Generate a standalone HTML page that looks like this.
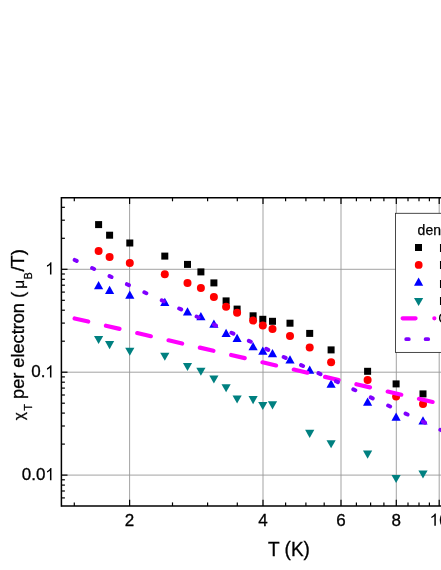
<!DOCTYPE html>
<html><head><meta charset="utf-8"><title>chart</title>
<style>
html,body{margin:0;padding:0;background:#fff;}
body{width:441px;height:570px;overflow:hidden;}
svg{display:block;will-change:transform;}
text{font-family:"Liberation Sans",sans-serif;fill:#000;}
</style></head><body>
<svg width="441" height="570" viewBox="0 0 441 570">
<rect width="441" height="570" fill="#fff"/>
<g stroke="#999" stroke-width="0.9" fill="none">
<line x1="129.6" y1="197.8" x2="129.6" y2="505.9"/>
<line x1="263.0" y1="197.8" x2="263.0" y2="505.9"/>
<line x1="341.0" y1="197.8" x2="341.0" y2="505.9"/>
<line x1="396.3" y1="197.8" x2="396.3" y2="505.9"/>
<line x1="439.2" y1="197.8" x2="439.2" y2="505.9"/>
<line x1="61.4" y1="269.3" x2="445" y2="269.3"/>
<line x1="61.4" y1="372.2" x2="445" y2="372.2"/>
<line x1="61.4" y1="475.1" x2="445" y2="475.1"/>
</g>
<g stroke="#000" stroke-width="1.5" fill="none">
<line x1="61.4" y1="197.05" x2="61.4" y2="506.65"/>
<line x1="61.4" y1="197.8" x2="445" y2="197.8"/>
<line x1="61.4" y1="505.9" x2="445" y2="505.9"/>
</g>
<g stroke="#000" stroke-width="1.2" fill="none">
<line x1="129.6" y1="505.9" x2="129.6" y2="499.79999999999995"/><line x1="129.6" y1="197.8" x2="129.6" y2="203.9"/>
<line x1="263.0" y1="505.9" x2="263.0" y2="499.79999999999995"/><line x1="263.0" y1="197.8" x2="263.0" y2="203.9"/>
<line x1="341.0" y1="505.9" x2="341.0" y2="499.79999999999995"/><line x1="341.0" y1="197.8" x2="341.0" y2="203.9"/>
<line x1="396.3" y1="505.9" x2="396.3" y2="499.79999999999995"/><line x1="396.3" y1="197.8" x2="396.3" y2="203.9"/>
<line x1="439.2" y1="505.9" x2="439.2" y2="499.79999999999995"/><line x1="439.2" y1="197.8" x2="439.2" y2="203.9"/>
<line x1="74.3" y1="505.9" x2="74.3" y2="502.4"/><line x1="74.3" y1="197.8" x2="74.3" y2="201.3"/>
<line x1="172.5" y1="505.9" x2="172.5" y2="502.4"/><line x1="172.5" y1="197.8" x2="172.5" y2="201.3"/>
<line x1="207.6" y1="505.9" x2="207.6" y2="502.4"/><line x1="207.6" y1="197.8" x2="207.6" y2="201.3"/>
<line x1="237.3" y1="505.9" x2="237.3" y2="502.4"/><line x1="237.3" y1="197.8" x2="237.3" y2="201.3"/>
<line x1="285.6" y1="505.9" x2="285.6" y2="502.4"/><line x1="285.6" y1="197.8" x2="285.6" y2="201.3"/>
<line x1="305.9" y1="505.9" x2="305.9" y2="502.4"/><line x1="305.9" y1="197.8" x2="305.9" y2="201.3"/>
<line x1="324.2" y1="505.9" x2="324.2" y2="502.4"/><line x1="324.2" y1="197.8" x2="324.2" y2="201.3"/>
<line x1="356.4" y1="505.9" x2="356.4" y2="502.4"/><line x1="356.4" y1="197.8" x2="356.4" y2="201.3"/>
<line x1="370.6" y1="505.9" x2="370.6" y2="502.4"/><line x1="370.6" y1="197.8" x2="370.6" y2="201.3"/>
<line x1="383.9" y1="505.9" x2="383.9" y2="502.4"/><line x1="383.9" y1="197.8" x2="383.9" y2="201.3"/>
<line x1="408.0" y1="505.9" x2="408.0" y2="502.4"/><line x1="408.0" y1="197.8" x2="408.0" y2="201.3"/>
<line x1="419.0" y1="505.9" x2="419.0" y2="502.4"/><line x1="419.0" y1="197.8" x2="419.0" y2="201.3"/>
<line x1="429.4" y1="505.9" x2="429.4" y2="502.4"/><line x1="429.4" y1="197.8" x2="429.4" y2="201.3"/>
<line x1="61.4" y1="269.3" x2="67.5" y2="269.3"/>
<line x1="61.4" y1="372.2" x2="67.5" y2="372.2"/>
<line x1="61.4" y1="475.1" x2="67.5" y2="475.1"/>
<line x1="61.4" y1="497.9" x2="64.9" y2="497.9"/>
<line x1="61.4" y1="491.0" x2="64.9" y2="491.0"/>
<line x1="61.4" y1="485.1" x2="64.9" y2="485.1"/>
<line x1="61.4" y1="479.8" x2="64.9" y2="479.8"/>
<line x1="61.4" y1="444.1" x2="64.9" y2="444.1"/>
<line x1="61.4" y1="426.0" x2="64.9" y2="426.0"/>
<line x1="61.4" y1="413.1" x2="64.9" y2="413.1"/>
<line x1="61.4" y1="403.2" x2="64.9" y2="403.2"/>
<line x1="61.4" y1="395.0" x2="64.9" y2="395.0"/>
<line x1="61.4" y1="388.1" x2="64.9" y2="388.1"/>
<line x1="61.4" y1="382.2" x2="64.9" y2="382.2"/>
<line x1="61.4" y1="376.9" x2="64.9" y2="376.9"/>
<line x1="61.4" y1="341.2" x2="64.9" y2="341.2"/>
<line x1="61.4" y1="323.1" x2="64.9" y2="323.1"/>
<line x1="61.4" y1="310.2" x2="64.9" y2="310.2"/>
<line x1="61.4" y1="300.3" x2="64.9" y2="300.3"/>
<line x1="61.4" y1="292.1" x2="64.9" y2="292.1"/>
<line x1="61.4" y1="285.2" x2="64.9" y2="285.2"/>
<line x1="61.4" y1="279.3" x2="64.9" y2="279.3"/>
<line x1="61.4" y1="274.0" x2="64.9" y2="274.0"/>
<line x1="61.4" y1="238.3" x2="64.9" y2="238.3"/>
<line x1="61.4" y1="220.2" x2="64.9" y2="220.2"/>
<line x1="61.4" y1="207.3" x2="64.9" y2="207.3"/>
</g>
<g fill="#000">
<rect x="95.1" y="221.1" width="7" height="7"/>
<rect x="106.1" y="231.7" width="7" height="7"/>
<rect x="126.3" y="239.5" width="7" height="7"/>
<rect x="161.3" y="252.6" width="7" height="7"/>
<rect x="184.0" y="260.9" width="7" height="7"/>
<rect x="197.4" y="268.4" width="7" height="7"/>
<rect x="210.4" y="279.4" width="7" height="7"/>
<rect x="222.6" y="297.4" width="7" height="7"/>
<rect x="233.6" y="305.6" width="7" height="7"/>
<rect x="249.6" y="312.3" width="7" height="7"/>
<rect x="259.3" y="315.8" width="7" height="7"/>
<rect x="269.0" y="317.8" width="7" height="7"/>
<rect x="286.5" y="319.7" width="7" height="7"/>
<rect x="306.2" y="329.9" width="7" height="7"/>
<rect x="327.6" y="346.4" width="7" height="7"/>
<rect x="364.1" y="367.8" width="7" height="7"/>
<rect x="392.6" y="380.4" width="7" height="7"/>
<rect x="419.5" y="390.4" width="7" height="7"/>
</g>
<g fill="#f00">
<circle cx="98.6" cy="251.0" r="4"/>
<circle cx="109.6" cy="256.9" r="4"/>
<circle cx="129.8" cy="263.1" r="4"/>
<circle cx="164.8" cy="274.3" r="4"/>
<circle cx="187.5" cy="282.9" r="4"/>
<circle cx="200.9" cy="287.9" r="4"/>
<circle cx="213.9" cy="296.9" r="4"/>
<circle cx="226.1" cy="306.8" r="4"/>
<circle cx="237.1" cy="312.8" r="4"/>
<circle cx="253.1" cy="320.6" r="4"/>
<circle cx="262.8" cy="325.5" r="4"/>
<circle cx="272.5" cy="328.9" r="4"/>
<circle cx="290.0" cy="336.1" r="4"/>
<circle cx="309.7" cy="347.4" r="4"/>
<circle cx="331.1" cy="362.3" r="4"/>
<circle cx="367.6" cy="380.0" r="4"/>
<circle cx="396.1" cy="396.4" r="4"/>
<circle cx="423.0" cy="404.1" r="4"/>
</g>
<g fill="#00f">
<path d="M94.0 289.2L103.2 289.2L98.6 281.0Z"/>
<path d="M105.0 293.9L114.2 293.9L109.6 285.7Z"/>
<path d="M125.2 298.7L134.4 298.7L129.8 290.5Z"/>
<path d="M160.2 305.9L169.4 305.9L164.8 297.7Z"/>
<path d="M182.9 315.4L192.1 315.4L187.5 307.2Z"/>
<path d="M196.3 320.3L205.5 320.3L200.9 312.1Z"/>
<path d="M209.3 327.7L218.5 327.7L213.9 319.5Z"/>
<path d="M221.5 337.0L230.7 337.0L226.1 328.8Z"/>
<path d="M232.5 341.9L241.7 341.9L237.1 333.7Z"/>
<path d="M248.5 350.3L257.7 350.3L253.1 342.1Z"/>
<path d="M258.2 354.8L267.4 354.8L262.8 346.6Z"/>
<path d="M267.9 357.3L277.1 357.3L272.5 349.1Z"/>
<path d="M285.4 363.5L294.6 363.5L290.0 355.3Z"/>
<path d="M305.1 373.7L314.3 373.7L309.7 365.5Z"/>
<path d="M326.5 387.7L335.7 387.7L331.1 379.5Z"/>
<path d="M363.0 405.8L372.2 405.8L367.6 397.6Z"/>
<path d="M391.5 420.7L400.7 420.7L396.1 412.5Z"/>
<path d="M418.4 424.5L427.6 424.5L423.0 416.3Z"/>
</g>
<g fill="#008080">
<path d="M94.0 336.0L103.2 336.0L98.6 344.1Z"/>
<path d="M105.0 341.1L114.2 341.1L109.6 349.2Z"/>
<path d="M125.2 347.7L134.4 347.7L129.8 355.8Z"/>
<path d="M160.2 352.7L169.4 352.7L164.8 360.8Z"/>
<path d="M182.9 362.9L192.1 362.9L187.5 371.0Z"/>
<path d="M196.3 367.7L205.5 367.7L200.9 375.8Z"/>
<path d="M209.3 375.4L218.5 375.4L213.9 383.5Z"/>
<path d="M221.5 384.2L230.7 384.2L226.1 392.3Z"/>
<path d="M232.5 395.4L241.7 395.4L237.1 403.5Z"/>
<path d="M248.5 396.1L257.7 396.1L253.1 404.2Z"/>
<path d="M258.2 401.9L267.4 401.9L262.8 410.0Z"/>
<path d="M267.9 401.3L277.1 401.3L272.5 409.4Z"/>
<path d="M305.1 429.8L314.3 429.8L309.7 437.9Z"/>
<path d="M326.5 440.2L335.7 440.2L331.1 448.3Z"/>
<path d="M363.0 450.6L372.2 450.6L367.6 458.7Z"/>
<path d="M391.5 475.0L400.7 475.0L396.1 483.1Z"/>
<path d="M418.4 470.5L427.6 470.5L423.0 478.6Z"/>
</g>
<line x1="74.6" y1="318.4" x2="460" y2="408.4" stroke="#f0f" stroke-width="4.15" stroke-linecap="round" stroke-dasharray="14.0 18.15" fill="none"/>
<line x1="74.70" y1="259.94" x2="460" y2="438.9" stroke="#8000ff" stroke-width="4.0" stroke-linecap="round" stroke-dasharray="2.2 17.00" fill="none"/>
<rect x="395.5" y="213.3" width="60" height="139.1" fill="#fff" stroke="#2a2a2a" stroke-width="0.85"/>
<text x="417.6" y="234.8" font-size="14" stroke="#000" stroke-width="0.25">density</text>
<rect x="415" y="244" width="7" height="7" fill="#000"/>
<circle cx="418.7" cy="264.9" r="3.9" fill="#f00"/>
<path d="M414.0 285.7L423.20000000000005 285.7L418.6 277.5Z" fill="#00f"/>
<path d="M414.0 297.90000000000003L423.20000000000005 297.90000000000003L418.6 306.0Z" fill="#008080"/>
<line x1="402.6" y1="318.3" x2="434.4" y2="318.3" stroke="#f0f" stroke-width="4.15" stroke-linecap="round" stroke-dasharray="13 18.7"/>
<line x1="406.2" y1="339.2" x2="430" y2="339.2" stroke="#8000ff" stroke-width="3.8" stroke-linecap="round" stroke-dasharray="2.6 16.8"/>
<text x="439.0" y="251.7" font-size="14">n = 1</text>
<text x="439.0" y="268.9" font-size="14">n = 1</text>
<text x="439.0" y="287.6" font-size="14">n = 1</text>
<text x="439.0" y="305.4" font-size="14">n = 1</text>
<text x="438.2" y="322.6" font-size="14">Curie</text>
<g font-size="17.0" stroke="#000" stroke-width="0.3">
<path transform="translate(45.12,274.50) scale(0.00830,-0.00830)" d="M763 0H583V1147Q518 1085 412.5 1023T223 930V1104Q374 1175 487 1276T647 1472H763Z" fill="#000"/>
<path transform="translate(45.12,377.40) scale(0.00830,-0.00830)" d="M763 0H583V1147Q518 1085 412.5 1023T223 930V1104Q374 1175 487 1276T647 1472H763Z" fill="#000"/>
<text x="45.47" y="377.4" text-anchor="end">0.</text>
<path transform="translate(45.12,480.30) scale(0.00830,-0.00830)" d="M763 0H583V1147Q518 1085 412.5 1023T223 930V1104Q374 1175 487 1276T647 1472H763Z" fill="#000"/>
<text x="45.47" y="480.3" text-anchor="end">0.0</text>
<text x="129.6" y="525.8" text-anchor="middle">2</text>
<text x="263.0" y="525.8" text-anchor="middle">4</text>
<text x="341.0" y="525.8" text-anchor="middle">6</text>
<text x="396.3" y="525.8" text-anchor="middle">8</text>
<path transform="translate(429.49,525.80) scale(0.00830,-0.00830)" d="M763 0H583V1147Q518 1085 412.5 1023T223 930V1104Q374 1175 487 1276T647 1472H763Z" fill="#000"/>
<text x="439.24" y="525.8">0</text>
</g>
<text transform="translate(289,555.6) scale(1,1.07)" font-size="19" text-anchor="middle" stroke="#000" stroke-width="0.3">T (K)</text>
<g transform="translate(23.5,0) rotate(-90)" font-size="18.5" stroke="#000" stroke-width="0.3">
<text x="-420.2" y="0.7" font-size="15.4">χ</text>
<text x="-407.4" y="8.0" font-size="10.5" text-anchor="middle">T</text>
<text x="-398.9" y="0" font-size="18.15">per electron</text>
<text x="-294.95" y="0" text-anchor="middle">(</text>
<text x="-284.3" y="0.7" font-size="15.4" text-anchor="middle">μ</text>
<text x="-275.7" y="8.0" font-size="10.5" text-anchor="middle">B</text>
<text x="-249.0" y="0" text-anchor="end">/T)</text>
</g>
</svg>
</body></html>
